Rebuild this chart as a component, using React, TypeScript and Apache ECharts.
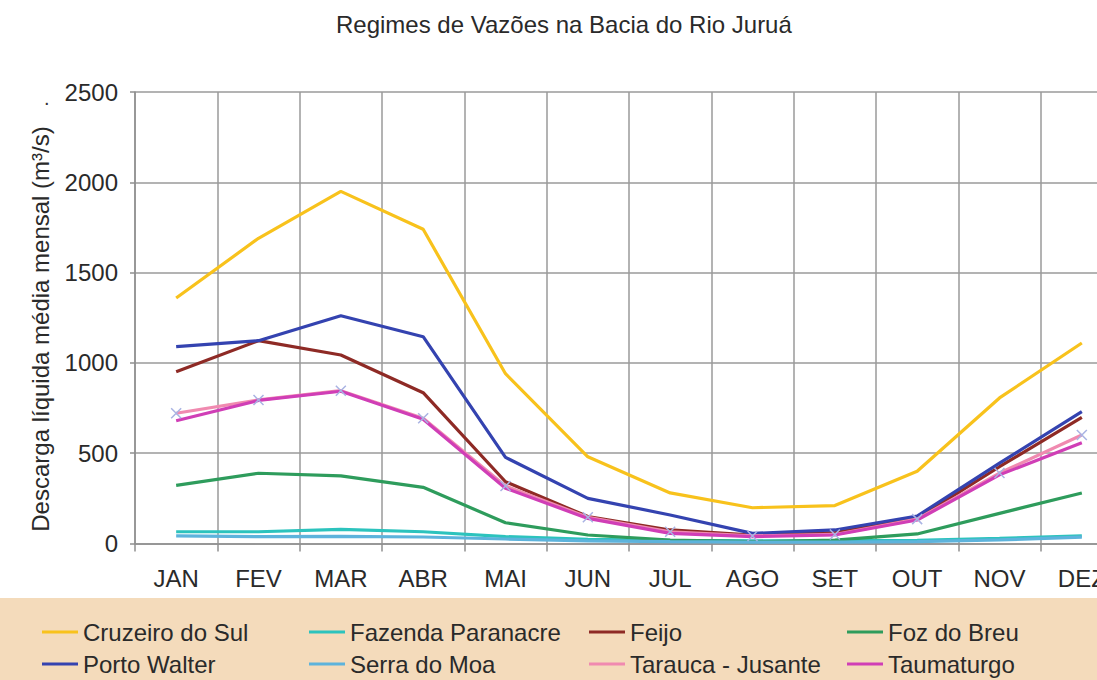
import React, { useEffect, useRef } from "react";
import * as echarts from "echarts";

const months = ["JAN", "FEV", "MAR", "ABR", "MAI", "JUN", "JUL", "AGO", "SET", "OUT", "NOV", "DEZ"];
const yTicks = { min: 0, max: 2500, interval: 500 };

const cruzeiroDoSul = [1359, 1690, 1950, 1740, 940, 480, 280, 198, 210, 400, 806, 1110];
const fazendaParanacre = [65, 65, 78, 65, 38, 23, 18, 14, 14, 18, 28, 42];
const feijo = [951, 1123, 1044, 835, 342, 149, 75, 47, 60, 139, 425, 699];
const fozDoBreu = [322, 389, 374, 311, 115, 47, 19, 10, 19, 53, 167, 280];
const portoWalter = [1090, 1123, 1261, 1145, 477, 250, 158, 56, 75, 152, 445, 730];
const serraDoMoa = [42, 38, 40, 36, 25, 15, 10, 8, 8, 10, 20, 35];
const taraucaJusante = [721, 795, 846, 693, 318, 145, 65, 42, 50, 135, 390, 601];
const taumaturgo = [680, 792, 843, 688, 306, 139, 56, 38, 47, 130, 380, 558];

const seriesDefs = [
  { name: "Cruzeiro do Sul", data: cruzeiroDoSul, color: "#F8C21C" },
  { name: "Fazenda Paranacre", data: fazendaParanacre, color: "#2CC3BD" },
  { name: "Feijo", data: feijo, color: "#8E2A25" },
  { name: "Foz do Breu", data: fozDoBreu, color: "#2E9C5C" },
  { name: "Porto Walter", data: portoWalter, color: "#3443B0" },
  { name: "Serra do Moa", data: serraDoMoa, color: "#5DB3DC" },
  { name: "Tarauca - Jusante", data: taraucaJusante, color: "#F08AB0" },
  { name: "Taumaturgo", data: taumaturgo, color: "#D03EB6" },
];

const legendPos = [
  { left: 42, top: 620 },
  { left: 309, top: 620 },
  { left: 589, top: 620 },
  { left: 847, top: 620 },
  { left: 42, top: 652 },
  { left: 309, top: 652 },
  { left: 589, top: 652 },
  { left: 847, top: 652 },
];

const FONT = "'Liberation Sans', Arial, sans-serif";
const CROSS = "path://M0,0L10,10M10,0L0,10";

export default function App() {
  const ref = useRef<HTMLDivElement>(null);
  useEffect(() => {
    if (!ref.current) return;
    const chart = echarts.init(ref.current, undefined, { renderer: "svg" });
    const option: any = {
      animation: false,
      backgroundColor: "#ffffff",
      textStyle: { fontFamily: FONT },
      title: {
        text: "Regimes de Vazões na Bacia do Rio Juruá",
        left: 336,
        top: 12,
        padding: 0,
        textStyle: { fontFamily: FONT, fontSize: 24, fontWeight: "normal", color: "#2a2a2a" },
      },
      graphic: [
        { type: "rect", shape: { x: 0, y: 598, width: 1097, height: 82 }, style: { fill: "#F4DBBB" }, z: -10 },
        { type: "text", x: 44, y: 88, style: { text: ".", fontSize: 20, fill: "#333", fontFamily: FONT } },
        {
          type: "text",
          x: 40,
          y: 329,
          rotation: Math.PI / 2,
          style: {
            text: "Descarga líquida média mensal (m³/s)",
            fontFamily: FONT,
            fontSize: 24,
            fill: "#2a2a2a",
            align: "center",
            verticalAlign: "middle",
          },
        },
      ],
      legend: seriesDefs.map((s, i) => ({
        data: [{ name: s.name, icon: "rect", itemStyle: { color: s.color, borderWidth: 0 } }],
        left: legendPos[i].left,
        top: legendPos[i].top,
        padding: 0,
        itemWidth: 36,
        itemHeight: 3,
        icon: "rect",
        textStyle: { fontFamily: FONT, fontSize: 24, color: "#2a2a2a" },
        selectedMode: false,
      })),
      grid: { left: 135, top: 92, width: 988, height: 451.5, outerBoundsMode: "none", containLabel: false },
      xAxis: {
        type: "category",
        data: months,
        boundaryGap: true,
        axisLine: { show: true, lineStyle: { color: "#8f8f8f", width: 1.5 } },
        axisTick: { show: true, length: 8, lineStyle: { color: "#8f8f8f", width: 1.5 } },
        splitLine: { show: true, lineStyle: { color: "#9a9a9a", width: 1.5 } },
        axisLabel: { margin: 23, fontFamily: FONT, fontSize: 24, color: "#2a2a2a", interval: 0 },
      },
      yAxis: {
        type: "value",
        min: yTicks.min,
        max: yTicks.max,
        interval: yTicks.interval,
        axisLine: { show: true, lineStyle: { color: "#8f8f8f", width: 1.5 } },
        axisTick: { show: true, length: 5, lineStyle: { color: "#8f8f8f", width: 1.5 } },
        splitLine: { show: true, lineStyle: { color: "#9a9a9a", width: 1.5 } },
        axisLabel: {
          margin: 17,
          fontFamily: FONT,
          fontSize: 24,
          color: "#2a2a2a",
          formatter: (v: number) => String(v),
        },
      },
      series: seriesDefs.map((s) => {
        const isTar = s.name === "Tarauca - Jusante";
        return {
          name: s.name,
          type: "line",
          data: s.data,
          color: s.color,
          lineStyle: { width: 3.2, color: s.color },
          symbol: isTar ? CROSS : "none",
          symbolSize: 10,
          showSymbol: isTar,
          itemStyle: isTar
            ? { color: "rgba(0,0,0,0)", borderColor: "#A9B3E3", borderWidth: 1.5 }
            : { color: s.color },
          emphasis: { disabled: true },
        };
      }),
    };
    chart.setOption(option);
    return () => chart.dispose();
  }, []);
  return (
    <div
      ref={ref}
      style={{ position: "fixed", left: 0, top: 0, width: 1097, height: 680 }}
    />
  );
}
